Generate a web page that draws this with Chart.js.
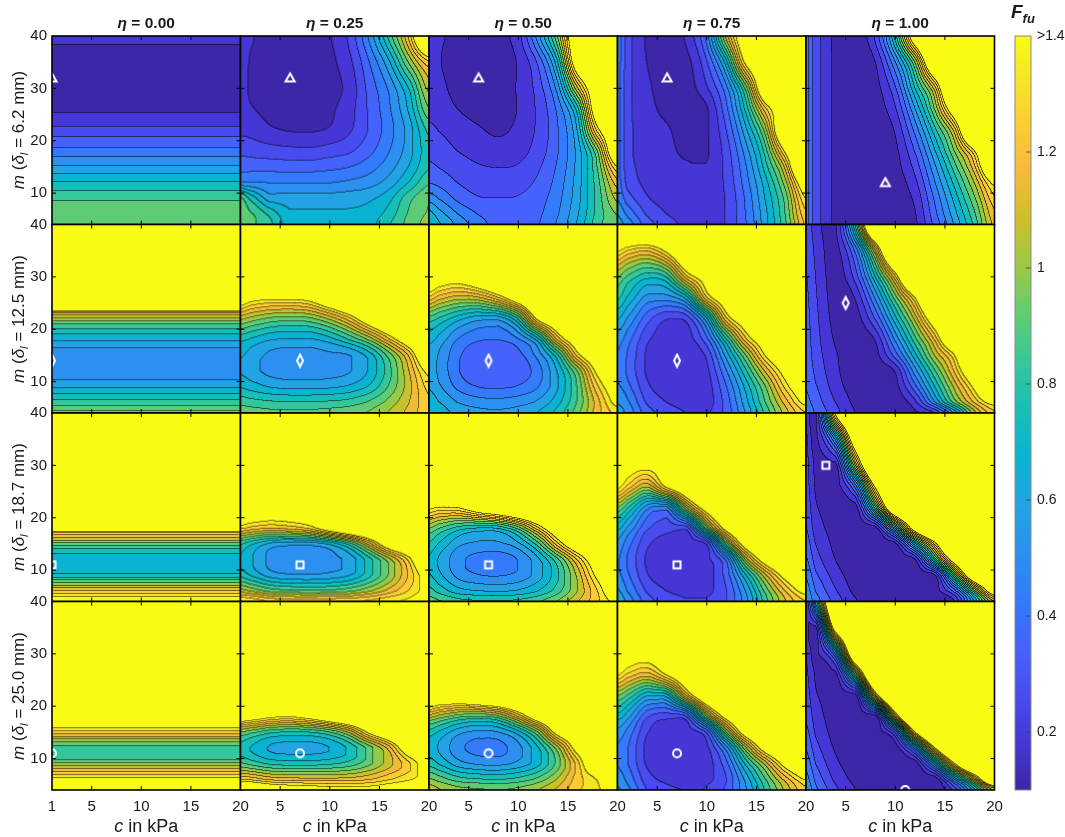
<!DOCTYPE html>
<html>
<head>
<meta charset="utf-8">
<script src="https://cdn.jsdelivr.net/npm/chart.js@4.4.1/dist/chart.umd.min.js"></script>
<style>
  html, body { margin: 0; padding: 0; background: #fff; }
  body { width: 1065px; height: 837px; position: relative; overflow: hidden;
         font-family: "Liberation Sans", Arial, sans-serif; color: #1a1a1a; }
  canvas { position: absolute; }
  .lbl { position: absolute; white-space: nowrap; text-align: center; }
  .col-title { font-weight: bold; font-size: 15.5px; line-height: 18px; top: 14px; }
  .x-title { font-size: 18px; line-height: 20px; top: 816px; }
  .row-title { font-size: 17px; line-height: 20px; height: 20px; transform: rotate(-90deg); }
  .cb-title { font-weight: bold; font-style: italic; font-size: 19px; line-height: 22px; left: 1011px; top: 1px; text-align: left; }
  sub { font-size: 68%; vertical-align: -0.35em; line-height: 0; }
</style>
</head>
<body>
<script>
// --- labels ---
const ETA_LABELS = ['0.00', '0.25', '0.50', '0.75', '1.00'];
const DELTA_LABELS = ['6.2', '12.5', '18.7', '25.0'];
const X_TICKS_FIRST = [1, 5, 10, 15, 20];
const X_TICKS = [5, 10, 15, 20];
const Y_TICKS = [10, 20, 30, 40];
const CBAR_TICKS = [0.2, 0.4, 0.6, 0.8, 1, 1.2, 1.4];

// --- contour levels: 17 equally spaced levels from 0.1 to 1.4 ---
const F_MIN = 0.1;
const F_MAX = 1.4;
const N_LEVELS = 17;

// --- sample nodes ---
const C_NODES = [1, 2, 4, 6, 8, 10, 12, 14, 16, 18, 20];
const M_NODES = [40, 35, 30, 26, 22, 18, 15, 12, 9, 6, 4];   // rows top -> bottom
const M_PROFILE = [4, 5, 6, 7, 8, 9, 10, 11, 12, 13, 14, 15, 16, 17, 18, 19, 20, 21, 22, 23, 24, 26, 28, 30, 32, 34, 36, 38, 40];

// eta = 0: F depends on m only
const F_R1_E000 = [.97, .965, .96, .95, .93, .894, .849, .802, .755, .705, .654, .603, .552, .502, .457, .413, .372, .332, .291, .253, .222, .165, .14, .13, .128, .135, .15, .175, .21];
const F_R2_E000 = [1.01, .937, .861, .787, .716, .653, .598, .57, .555, .55, .55, .558, .574, .619, .683, .75, .824, .92, 1.075, 1.21, 1.6, 2, 2, 2, 2, 2, 2, 2, 2];
const F_R3_E000 = [1.6, 1.4, 1.251, 1.075, .926, .777, .71, .69, .705, .745, .816, .961, 1.14, 1.303, 1.6, 2, 2, 2, 2, 2, 2, 2, 2, 2, 2, 2, 2, 2, 2];
const F_R4_E000 = [2, 1.8, 1.45, 1.29, 1.156, 1.02, .875, .845, .88, .98, 1.14, 1.30, 1.45, 2, 2, 2, 2, 2, 2, 2, 2, 2, 2, 2, 2, 2, 2, 2, 2];

// delta_l = 6.2 mm
const F_R1_E025 = [
  [.22, .19, .15, .14, .15, .175, .28, .52, .85, 1.25, 1.9],
  [.215, .175, .135, .125, .13, .16, .24, .42, .65, 1.0, 1.3],
  [.21, .17, .13, .12, .125, .15, .21, .37, .52, .75, 1.1],
  [.225, .19, .155, .14, .14, .165, .23, .355, .49, .68, .98],
  [.245, .235, .195, .175, .172, .19, .25, .35, .47, .62, .85],
  [.318, .31, .295, .285, .28, .30, .33, .40, .50, .63, .80],
  [.40, .395, .39, .385, .385, .40, .42, .47, .55, .67, .82],
  [.51, .51, .50, .50, .50, .50, .52, .55, .62, .75, .90],
  [.92, .80, .62, .62, .62, .62, .63, .65, .72, .88, .98],
  [.94, .92, .80, .68, .68, .68, .68, .70, .78, .92, 1.0],
  [.95, .93, .85, .70, .69, .69, .70, .72, .82, .94, 1.02]
];
const F_R1_E050 = [
  [.20, .19, .16, .15, .165, .23, .55, 1.0, 1.7, 1.9, 2],
  [.20, .185, .145, .13, .14, .19, .36, .75, 1.6, 1.85, 2],
  [.22, .20, .155, .135, .14, .19, .30, .55, 1.15, 1.65, 1.9],
  [.24, .22, .18, .155, .15, .185, .28, .45, .80, 1.6, 1.8],
  [.28, .26, .22, .19, .17, .20, .28, .42, .68, 1.35, 1.7],
  [.32, .30, .26, .23, .21, .23, .30, .42, .62, 1.0, 1.7],
  [.36, .34, .30, .27, .26, .27, .33, .44, .62, .92, 1.4],
  [.42, .40, .34, .31, .30, .31, .36, .46, .63, .88, 1.2],
  [.55, .50, .40, .35, .345, .35, .39, .48, .64, .86, 1.1],
  [.70, .62, .50, .42, .38, .38, .41, .50, .66, .86, 1.0],
  [.75, .68, .56, .46, .40, .40, .42, .52, .68, .88, .98]
];
const F_R1_E075 = [
  [.48, .30, .17, .14, .20, .45, 1.1, 1.65, 1.9, 2, 2],
  [.47, .30, .18, .135, .155, .33, .72, 1.45, 1.75, 2, 2],
  [.46, .29, .20, .14, .145, .25, .48, .95, 1.7, 1.9, 2],
  [.46, .29, .21, .16, .14, .17, .40, .78, 1.3, 1.65, 1.9],
  [.46, .29, .22, .19, .15, .17, .34, .65, 1.05, 1.8, 1.95],
  [.46, .29, .22, .20, .165, .17, .30, .55, .88, 1.45, 2],
  [.46, .30, .23, .21, .19, .185, .29, .50, .80, 1.2, 2],
  [.47, .32, .24, .22, .20, .20, .28, .47, .72, 1.05, 1.6],
  [.50, .38, .27, .23, .21, .21, .27, .44, .68, .95, 1.4],
  [.58, .48, .33, .26, .22, .215, .27, .43, .65, .92, 1.3],
  [.62, .55, .38, .30, .24, .22, .27, .42, .64, .90, 1.25]
];
const F_R1_E100 = [
  [.45, .30, .16, .13, .28, .78, 1.6, 2, 2, 2, 2],
  [.45, .30, .16, .125, .18, .50, 1.0, 1.8, 2, 2, 2],
  [.45, .30, .16, .12, .15, .33, .75, 1.2, 2, 2, 2],
  [.45, .30, .16, .12, .14, .25, .58, 1.0, 1.6, 2, 2],
  [.45, .30, .16, .12, .13, .19, .45, .80, 1.2, 2, 2],
  [.45, .30, .16, .12, .125, .16, .35, .66, 1.0, 1.4, 2],
  [.45, .30, .16, .12, .12, .15, .29, .57, .88, 1.22, 1.8],
  [.45, .30, .16, .12, .12, .14, .24, .50, .78, 1.08, 1.45],
  [.45, .30, .16, .12, .12, .14, .20, .44, .70, .98, 1.30],
  [.45, .30, .16, .12, .12, .13, .175, .40, .64, .90, 1.22],
  [.45, .30, .16, .12, .12, .13, .165, .37, .60, .86, 1.18]
];

// delta_l = 12.5 mm
const F_R2_E025 = [
  [2, 2, 2, 2, 2, 2, 2, 2, 2, 2, 2],
  [2, 2, 2, 2, 2, 2, 2, 2, 2, 2, 2],
  [2, 2, 2, 2, 2, 2, 2, 2, 2, 2, 2],
  [1.6, 1.5, 1.45, 1.45, 1.5, 1.7, 1.9, 2, 2, 2, 2],
  [1.1, 1.05, .98, .96, .98, 1.10, 1.30, 1.6, 1.85, 2, 2],
  [.78, .74, .68, .66, .66, .72, .84, 1.02, 1.3, 1.6, 1.85],
  [.68, .64, .57, .555, .555, .57, .59, .71, .95, 1.25, 1.7],
  [.66, .62, .56, .54, .54, .55, .58, .68, .88, 1.15, 1.45],
  [.74, .71, .66, .64, .64, .65, .68, .76, .92, 1.12, 1.35],
  [.88, .86, .84, .83, .83, .84, .86, .92, 1.02, 1.15, 1.3],
  [.96, .95, .93, .93, .93, .94, .96, 1.0, 1.08, 1.18, 1.3]
];
const F_R2_E050 = [
  [2, 2, 2, 2, 2, 2, 2, 2, 2, 2, 2],
  [2, 2, 2, 2, 2, 2, 2, 2, 2, 2, 2],
  [1.7, 1.6, 1.55, 1.7, 1.9, 2, 2, 2, 2, 2, 2],
  [1.3, 1.2, 1.12, 1.15, 1.32, 1.6, 1.85, 2, 2, 2, 2],
  [.88, .82, .70, .62, .62, .85, 1.45, 1.7, 2, 2, 2],
  [.70, .64, .50, .44, .43, .50, .72, 1.26, 1.6, 1.85, 2],
  [.64, .58, .44, .37, .36, .40, .54, .82, 1.35, 1.65, 1.9],
  [.63, .57, .43, .35, .35, .37, .47, .68, 1.0, 1.45, 1.7],
  [.66, .60, .48, .42, .41, .43, .50, .66, .92, 1.3, 1.55],
  [.72, .67, .58, .54, .53, .55, .60, .72, .92, 1.2, 1.45],
  [.75, .71, .64, .61, .60, .62, .67, .78, .96, 1.2, 1.35]
];
const F_R2_E075 = [
  [2, 2, 2, 2, 2, 2, 2, 2, 2, 2, 2],
  [1.42, 1.32, 1.25, 1.45, 1.8, 2, 2, 2, 2, 2, 2],
  [1.0, .90, .78, .85, 1.3, 1.55, 1.9, 2, 2, 2, 2],
  [.85, .74, .56, .55, .72, 1.3, 1.6, 1.9, 2, 2, 2],
  [.68, .58, .38, .27, .30, .65, 1.3, 1.6, 1.9, 2, 2],
  [.55, .46, .28, .22, .22, .40, .82, 1.3, 1.6, 1.9, 2],
  [.50, .42, .25, .21, .21, .28, .62, 1.0, 1.42, 1.7, 2],
  [.48, .41, .25, .21, .20, .24, .50, .82, 1.18, 1.5, 1.75],
  [.52, .45, .28, .22, .20, .22, .42, .70, 1.0, 1.35, 1.6],
  [.58, .52, .33, .26, .22, .22, .38, .64, .92, 1.2, 1.45],
  [.62, .56, .38, .31, .26, .25, .37, .60, .86, 1.12, 1.32]
];
const F_R2_E100 = [
  [.32, .22, .17, .85, 2, 2, 2, 2, 2, 2, 2],
  [.34, .24, .15, .45, 1.15, 2, 2, 2, 2, 2, 2],
  [.35, .26, .14, .30, .75, 1.3, 2, 2, 2, 2, 2],
  [.36, .27, .14, .19, .52, .95, 1.4, 2, 2, 2, 2],
  [.37, .28, .15, .14, .35, .72, 1.1, 1.6, 2, 2, 2],
  [.38, .29, .17, .13, .19, .52, .88, 1.25, 1.8, 2, 2],
  [.39, .30, .19, .13, .15, .38, .72, 1.08, 1.4, 2, 2],
  [.40, .32, .20, .13, .13, .19, .55, .90, 1.25, 1.7, 2],
  [.42, .35, .22, .14, .12, .15, .40, .75, 1.1, 1.45, 2],
  [.45, .38, .26, .16, .12, .13, .24, .58, .95, 1.25, 1.5],
  [.48, .41, .29, .18, .13, .13, .17, .27, .62, 1.05, 1.3]
];

// delta_l = 18.7 mm
const F_R3_E025 = [
  [2, 2, 2, 2, 2, 2, 2, 2, 2, 2, 2],
  [2, 2, 2, 2, 2, 2, 2, 2, 2, 2, 2],
  [2, 2, 2, 2, 2, 2, 2, 2, 2, 2, 2],
  [2, 2, 2, 2, 2, 2, 2, 2, 2, 2, 2],
  [1.75, 1.7, 1.65, 1.65, 1.7, 1.8, 1.9, 2, 2, 2, 2],
  [1.35, 1.3, 1.25, 1.28, 1.35, 1.55, 1.75, 1.9, 2, 2, 2],
  [.85, .78, .66, .63, .63, .70, .88, 1.2, 1.6, 1.8, 1.95],
  [.74, .68, .57, .545, .545, .56, .62, .80, 1.05, 1.35, 1.8],
  [.80, .74, .63, .595, .59, .61, .66, .80, 1.0, 1.25, 1.5],
  [1.1, 1.05, .95, .92, .91, .92, .96, 1.05, 1.18, 1.32, 1.45],
  [1.4, 1.38, 1.3, 1.28, 1.28, 1.29, 1.3, 1.33, 1.38, 1.42, 1.5]
];
const F_R3_E050 = [
  [2, 2, 2, 2, 2, 2, 2, 2, 2, 2, 2],
  [2, 2, 2, 2, 2, 2, 2, 2, 2, 2, 2],
  [2, 2, 2, 2, 2, 2, 2, 2, 2, 2, 2],
  [1.9, 1.85, 1.85, 1.9, 2, 2, 2, 2, 2, 2, 2],
  [1.45, 1.4, 1.42, 1.6, 1.75, 1.9, 2, 2, 2, 2, 2],
  [1.0, .92, .80, .75, .77, .95, 1.3, 1.65, 1.85, 2, 2],
  [.82, .74, .61, .57, .57, .65, .88, 1.3, 1.65, 1.85, 2],
  [.74, .66, .53, .48, .47, .51, .65, .90, 1.25, 1.6, 1.85],
  [.76, .69, .56, .51, .50, .53, .63, .82, 1.1, 1.45, 1.7],
  [.86, .80, .70, .67, .66, .68, .75, .88, 1.08, 1.32, 1.6],
  [.95, .92, .86, .84, .84, .85, .90, 1.0, 1.15, 1.3, 1.45]
];
const F_R3_E075 = [
  [2, 2, 2, 2, 2, 2, 2, 2, 2, 2, 2],
  [2, 2, 2, 2, 2, 2, 2, 2, 2, 2, 2],
  [1.6, 1.55, 1.5, 1.6, 1.8, 2, 2, 2, 2, 2, 2],
  [1.45, 1.3, 1.1, 1.45, 1.7, 2, 2, 2, 2, 2, 2],
  [1.0, .85, .55, .50, 1.1, 1.55, 1.8, 2, 2, 2, 2],
  [.70, .58, .36, .30, .31, .95, 1.5, 1.8, 2, 2, 2],
  [.57, .46, .28, .23, .22, .28, .95, 1.55, 1.8, 2, 2],
  [.52, .42, .25, .21, .20, .24, .45, 1.1, 1.55, 1.8, 2],
  [.53, .44, .27, .21, .20, .22, .38, .75, 1.15, 1.5, 1.75],
  [.60, .50, .33, .26, .23, .24, .34, .60, .95, 1.25, 1.48],
  [.66, .56, .38, .31, .27, .27, .34, .56, .88, 1.15, 1.32]
];
const F_R3_E100 = [
  [.26, .16, 1.44, 2, 2, 2, 2, 2, 2, 2, 2],
  [.28, .16, .62, 1.64, 2, 2, 2, 2, 2, 2, 2],
  [.29, .16, .15, 1.08, 1.96, 2, 2, 2, 2, 2, 2],
  [.30, .17, .14, .47, 1.44, 2, 2, 2, 2, 2, 2],
  [.32, .19, .14, .14, .89, 1.8, 2, 2, 2, 2, 2],
  [.35, .22, .15, .13, .15, .77, 1.56, 2, 2, 2, 2],
  [.39, .26, .16, .13, .13, .16, .73, 1.34, 2, 2, 2],
  [.44, .30, .18, .13, .12, .13, .18, .86, 1.56, 2, 2],
  [.50, .36, .22, .14, .12, .12, .13, .18, .94, 1.72, 2],
  [.55, .42, .27, .16, .13, .12, .12, .14, .39, .98, 1.6],
  [.58, .46, .31, .19, .14, .12, .12, .13, .18, .67, 1.16]
];

// delta_l = 25.0 mm
const F_R4_E025 = [
  [2, 2, 2, 2, 2, 2, 2, 2, 2, 2, 2],
  [2, 2, 2, 2, 2, 2, 2, 2, 2, 2, 2],
  [2, 2, 2, 2, 2, 2, 2, 2, 2, 2, 2],
  [2, 2, 2, 2, 2, 2, 2, 2, 2, 2, 2],
  [1.9, 1.85, 1.8, 1.8, 1.85, 1.9, 2, 2, 2, 2, 2],
  [1.6, 1.55, 1.45, 1.42, 1.5, 1.65, 1.8, 1.9, 2, 2, 2],
  [1.0, .95, .86, .83, .84, .92, 1.1, 1.45, 1.7, 1.9, 2],
  [.80, .75, .66, .64, .64, .67, .77, .95, 1.2, 1.6, 1.8],
  [.92, .88, .81, .79, .79, .81, .86, .97, 1.12, 1.3, 1.5],
  [1.3, 1.28, 1.2, 1.18, 1.17, 1.17, 1.18, 1.22, 1.3, 1.38, 1.45],
  [1.7, 1.65, 1.55, 1.5, 1.48, 1.45, 1.45, 1.45, 1.5, 1.55, 1.6]
];
const F_R4_E050 = [
  [2, 2, 2, 2, 2, 2, 2, 2, 2, 2, 2],
  [2, 2, 2, 2, 2, 2, 2, 2, 2, 2, 2],
  [2, 2, 2, 2, 2, 2, 2, 2, 2, 2, 2],
  [2, 2, 2, 2, 2, 2, 2, 2, 2, 2, 2],
  [1.8, 1.7, 1.7, 1.8, 1.9, 2, 2, 2, 2, 2, 2],
  [1.12, 1.05, .95, .92, .98, 1.25, 1.6, 1.8, 2, 2, 2],
  [.80, .74, .62, .57, .59, .72, 1.0, 1.5, 1.7, 1.9, 2],
  [.72, .66, .53, .48, .48, .56, .74, 1.05, 1.5, 1.7, 1.9],
  [.80, .74, .62, .57, .56, .61, .72, .95, 1.28, 1.7, 1.8],
  [1.0, .95, .86, .83, .82, .85, .93, 1.08, 1.28, 1.42, 1.8],
  [1.12, 1.08, 1.02, 1.0, .99, 1.01, 1.07, 1.17, 1.3, 1.38, 1.5]
];
const F_R4_E075 = [
  [2, 2, 2, 2, 2, 2, 2, 2, 2, 2, 2],
  [2, 2, 2, 2, 2, 2, 2, 2, 2, 2, 2],
  [1.7, 1.6, 1.55, 1.7, 2, 2, 2, 2, 2, 2, 2],
  [1.42, 1.3, 1.2, 1.42, 1.7, 2, 2, 2, 2, 2, 2],
  [1.0, .90, .68, .72, 1.25, 1.7, 2, 2, 2, 2, 2],
  [.72, .62, .36, .30, .36, .99, 1.5, 1.8, 2, 2, 2],
  [.56, .48, .27, .22, .22, .36, .99, 1.55, 1.8, 2, 2],
  [.50, .43, .24, .20, .19, .24, .55, 1.07, 1.55, 1.8, 2],
  [.50, .43, .25, .20, .19, .22, .40, .78, 1.12, 1.5, 1.75],
  [.55, .48, .30, .24, .22, .24, .34, .62, .92, 1.2, 1.42],
  [.60, .53, .34, .28, .26, .27, .36, .58, .85, 1.1, 1.3]
];
const F_R4_E100 = [
  [.17, .79, 2, 2, 2, 2, 2, 2, 2, 2, 2],
  [.22, .16, 1.56, 2, 2, 2, 2, 2, 2, 2, 2],
  [.26, .16, .53, 1.8, 2, 2, 2, 2, 2, 2, 2],
  [.28, .17, .15, .94, 1.96, 2, 2, 2, 2, 2, 2],
  [.30, .19, .14, .14, 1.26, 2, 2, 2, 2, 2, 2],
  [.33, .22, .14, .13, .14, 1.23, 2, 2, 2, 2, 2],
  [.37, .25, .15, .13, .13, .38, 1.4, 2, 2, 2, 2],
  [.42, .29, .17, .13, .12, .13, .555, 1.4, 2, 2, 2],
  [.48, .34, .20, .14, .12, .12, .13, .64, 1.4, 2, 2],
  [.54, .40, .24, .16, .13, .12, .12, .13, .61, 1.17, 1.88],
  [.58, .44, .28, .18, .14, .12, .12, .12, .29, .73, 1.18]
];

// optimum markers (c, m) per row
const MARK_C_R1 = [1, 6, 6, 6, 9];
const MARK_M_R1 = [32, 32, 32, 32, 12];
const MARK_C_R2 = [1, 7, 7, 7, 5];
const MARK_M_R2 = [14, 14, 14, 14, 25];
const MARK_C_R3 = [1, 7, 7, 7, 3];
const MARK_M_R3 = [11, 11, 11, 11, 30];
const MARK_C_R4 = [1, 7, 7, 7, 11];
const MARK_M_R4 = [11, 11, 11, 11, 4];

const FIELD_TABLE = [
  [F_R1_E000, F_R1_E025, F_R1_E050, F_R1_E075, F_R1_E100],
  [F_R2_E000, F_R2_E025, F_R2_E050, F_R2_E075, F_R2_E100],
  [F_R3_E000, F_R3_E025, F_R3_E050, F_R3_E075, F_R3_E100],
  [F_R4_E000, F_R4_E025, F_R4_E050, F_R4_E075, F_R4_E100]
];
const MARK_C = [MARK_C_R1, MARK_C_R2, MARK_C_R3, MARK_C_R4];
const MARK_M = [MARK_M_R1, MARK_M_R2, MARK_M_R3, MARK_M_R4];
const MARK_KIND = ['triangle', 'diamond', 'square', 'circle'];

// parula colormap stops (index out of 64)
const PARULA_IDX = [0, 4, 8, 12, 16, 20, 24, 28, 32, 36, 40, 44, 48, 52, 56, 60, 63];
const PARULA = [
  [0.2422, 0.1504, 0.6603], [0.2706, 0.2147, 0.8364], [0.2813, 0.3006, 0.9414],
  [0.2699, 0.3892, 0.9906], [0.1963, 0.4847, 0.9892], [0.1687, 0.5703, 0.9359],
  [0.1248, 0.6459, 0.8883], [0.0297, 0.7082, 0.8163], [0.0964, 0.7500, 0.7120],
  [0.2161, 0.7843, 0.5923], [0.3909, 0.8029, 0.4354], [0.6174, 0.7876, 0.2612],
  [0.8203, 0.7498, 0.1535], [0.9728, 0.7298, 0.2394], [0.9892, 0.8136, 0.1885],
  [0.9597, 0.9135, 0.1423], [0.9769, 0.9839, 0.0805]
];

function parula(t) {
  const p = Math.max(0, Math.min(1, t)) * 63;
  let i = 0;
  while (i < PARULA_IDX.length - 2 && p > PARULA_IDX[i + 1]) i++;
  const f = (p - PARULA_IDX[i]) / (PARULA_IDX[i + 1] - PARULA_IDX[i]);
  return PARULA[i].map((v, k) => Math.round((v + (PARULA[i + 1][k] - v) * f) * 255));
}

const STEP = (F_MAX - F_MIN) / (N_LEVELS - 1);
const BAND_RGB = [];
for (let k = 0; k < N_LEVELS; k++) BAND_RGB.push(parula(k / (N_LEVELS - 1)));

function bandOf(f) {
  if (f >= F_MAX) return N_LEVELS - 1;
  const k = Math.floor((f - F_MIN) / STEP);
  return Math.max(0, Math.min(N_LEVELS - 2, k));
}

// piecewise cubic through the nodes, kept inside each interval (no overshoot)
function cubic(p0, p1, p2, p3, t) {
  const v = p1 + 0.5 * t * (p2 - p0 + t * (2 * p0 - 5 * p1 + 4 * p2 - p3 + t * (3 * (p1 - p2) + p3 - p0)));
  const lo = Math.min(p1, p2), hi = Math.max(p1, p2);
  return v < lo ? lo : (v > hi ? hi : v);
}
function locate(nodes, v) {
  const n = nodes.length;
  if (v <= nodes[0]) return [0, 0];
  if (v >= nodes[n - 1]) return [n - 2, 1];
  let i = 0;
  while (v > nodes[i + 1]) i++;
  return [i, (v - nodes[i]) / (nodes[i + 1] - nodes[i])];
}
function along(arr, i, t) {
  const n = arr.length;
  const g = k => arr[Math.max(0, Math.min(n - 1, k))];
  return cubic(g(i - 1), g(i), g(i + 1), g(i + 2), t);
}

const M_ASC = M_NODES.slice().reverse();

function makeEvaluator(field) {
  if (!Array.isArray(field[0])) {
    return (c, m) => { const [i, t] = locate(M_PROFILE, m); return along(field, i, t); };
  }
  const rows = field.slice().reverse();
  return (c, m) => {
    const [ix, tx] = locate(C_NODES, c);
    const [iy, ty] = locate(M_ASC, m);
    const col = [];
    for (let k = -1; k <= 2; k++) {
      const r = rows[Math.max(0, Math.min(rows.length - 1, iy + k))];
      col.push(along(r, ix, tx));
    }
    return cubic(col[0], col[1], col[2], col[3], ty);
  };
}

const evaluators = new Map();
const SS = 2;          // supersampling so the contour lines come out thin
const LINE_SHADE = 0;

const fieldPlugin = {
  id: 'field',
  beforeDatasetsDraw(chart) {
    const evalF = evaluators.get(chart.canvas);
    if (!evalF) return;
    const a = chart.chartArea, xs = chart.scales.x, ys = chart.scales.y;
    const dpr = chart.currentDevicePixelRatio || 1;
    const w = Math.round(a.width * dpr), h = Math.round(a.height * dpr);
    const W = w * SS, H = h * SS;
    const bands = new Uint8Array(W * H);
    const cs = new Float64Array(W);
    for (let i = 0; i < W; i++) cs[i] = xs.getValueForPixel(a.left + (i + 0.5) / (dpr * SS));
    for (let j = 0; j < H; j++) {
      const m = ys.getValueForPixel(a.top + (j + 0.5) / (dpr * SS));
      for (let i = 0; i < W; i++) bands[j * W + i] = bandOf(evalF(cs[i], m));
    }
    const off = document.createElement('canvas');
    off.width = w; off.height = h;
    const octx = off.getContext('2d');
    const img = octx.createImageData(w, h);
    const n = SS * SS;
    for (let j = 0; j < h; j++) {
      for (let i = 0; i < w; i++) {
        let r = 0, g = 0, b = 0;
        for (let sj = 0; sj < SS; sj++) {
          for (let si = 0; si < SS; si++) {
            const J = j * SS + sj, I = i * SS + si, p = J * W + I, k = bands[p];
            const edge = (I < W - 1 && bands[p + 1] !== k) || (J < H - 1 && bands[p + W] !== k);
            const rgb = BAND_RGB[k], f = edge ? LINE_SHADE : 1;
            r += rgb[0] * f; g += rgb[1] * f; b += rgb[2] * f;
          }
        }
        const q = (j * w + i) * 4;
        img.data[q] = r / n;
        img.data[q + 1] = g / n;
        img.data[q + 2] = b / n;
        img.data[q + 3] = 255;
      }
    }
    octx.putImageData(img, 0, 0);
    chart.ctx.drawImage(off, a.left, a.top, a.width, a.height);
  },
  afterDraw(chart) {
    const a = chart.chartArea, xs = chart.scales.x, ys = chart.scales.y, ctx = chart.ctx;
    ctx.save();
    ctx.strokeStyle = '#000';
    ctx.lineWidth = 1;
    ctx.beginPath();
    [5, 10, 15].forEach(v => {
      const px = xs.getPixelForValue(v);
      ctx.moveTo(px, a.bottom); ctx.lineTo(px, a.bottom - 4);
      ctx.moveTo(px, a.top); ctx.lineTo(px, a.top + 4);
    });
    [10, 20, 30].forEach(v => {
      const py = ys.getPixelForValue(v);
      ctx.moveTo(a.left, py); ctx.lineTo(a.left + 4, py);
      ctx.moveTo(a.right, py); ctx.lineTo(a.right - 4, py);
    });
    ctx.stroke();
    ctx.lineWidth = 1.6;
    ctx.strokeRect(a.left, a.top, a.width, a.height);
    ctx.restore();
  }
};

function markerCanvas(kind) {
  const cv = document.createElement('canvas');
  cv.width = 16; cv.height = 16;
  const g = cv.getContext('2d');
  g.strokeStyle = '#fff';
  g.lineWidth = 2;
  g.beginPath();
  if (kind === 'triangle') { g.moveTo(8, 3.5); g.lineTo(12.5, 11.5); g.lineTo(3.5, 11.5); g.closePath(); }
  else if (kind === 'diamond') { g.moveTo(8, 2); g.lineTo(11, 8); g.lineTo(8, 14); g.lineTo(5, 8); g.closePath(); }
  else if (kind === 'square') { g.rect(4.5, 4.5, 7, 7); }
  else { g.arc(8, 8, 4, 0, Math.PI * 2); }
  g.stroke();
  return cv;
}

Chart.defaults.font.family = '"Liberation Sans", Arial, sans-serif';
Chart.defaults.color = '#1a1a1a';

const COL_LEFT = [52, 240.5, 429, 617.5, 806];
const ROW_TOP = [36, 224.5, 413, 601.5];
const PANEL = 188.5;
const CV_W = 270, CV_H = 240;

function addLabel(cls, html, left, top, width) {
  const d = document.createElement('div');
  d.className = 'lbl ' + cls;
  d.innerHTML = html;
  d.style.left = left + 'px';
  if (top !== null) d.style.top = top + 'px';
  if (width) d.style.width = width + 'px';
  document.body.appendChild(d);
  return d;
}

const tickFont = { size: 15 };

for (let r = 0; r < 4; r++) {
  for (let c = 0; c < 5; c++) {
    const cvLeft = Math.floor(COL_LEFT[c]) - 62;
    const cvTop = Math.floor(ROW_TOP[r]) - 12;
    const canvas = document.createElement('canvas');
    canvas.width = CV_W; canvas.height = CV_H;
    canvas.style.left = cvLeft + 'px';
    canvas.style.top = cvTop + 'px';
    document.body.appendChild(canvas);
    evaluators.set(canvas, makeEvaluator(FIELD_TABLE[r][c]));
    // the axes take the whole margin so their labels are not clipped
    const axisW = COL_LEFT[c] - cvLeft, padT = ROW_TOP[r] - cvTop;
    const axisH = CV_H - padT - PANEL;
    const xt = c === 0 ? X_TICKS_FIRST : X_TICKS;
    const isBottom = r === 3, isFirst = c === 0;
    new Chart(canvas, {
      type: 'scatter',
      data: {
        datasets: [{
          data: [{ x: MARK_C[r][c], y: MARK_M[r][c] }],
          pointStyle: markerCanvas(MARK_KIND[r]),
          pointRadius: 8,
          clip: 0
        }]
      },
      options: {
        responsive: false,
        animation: false,
        events: [],
        layout: { padding: { left: 0, top: padT, right: CV_W - axisW - PANEL, bottom: 0 } },
        plugins: { legend: { display: false }, tooltip: { enabled: false } },
        scales: {
          x: {
            type: 'linear', min: 1, max: 20, position: 'bottom',
            grid: { display: false, drawTicks: false }, border: { display: false },
            ticks: { display: isBottom, padding: 8, font: tickFont, color: '#1a1a1a', maxRotation: 0, autoSkip: false },
            afterBuildTicks: s => { s.ticks = xt.map(v => ({ value: v })); },
            afterFit: s => { s.height = axisH; s.paddingLeft = 0; s.paddingRight = 0; s.paddingTop = 0; s.paddingBottom = 0; }
          },
          y: {
            type: 'linear', min: 4, max: 40, position: 'left',
            grid: { display: false, drawTicks: false }, border: { display: false },
            ticks: { display: isFirst, padding: 5, font: tickFont, color: '#1a1a1a', autoSkip: false },
            afterBuildTicks: s => { s.ticks = Y_TICKS.map(v => ({ value: v })); },
            afterFit: s => { s.width = axisW; s.paddingLeft = 0; s.paddingRight = 0; s.paddingTop = 0; s.paddingBottom = 0; }
          }
        }
      },
      plugins: [fieldPlugin]
    });
  }
}

// colour bar
const colorbarPlugin = {
  id: 'colorbar',
  beforeDatasetsDraw(chart) {
    const a = chart.chartArea, ys = chart.scales.y, ctx = chart.ctx;
    const grad = ctx.createLinearGradient(0, ys.getPixelForValue(F_MIN), 0, ys.getPixelForValue(F_MAX));
    PARULA.forEach((col, i) => {
      grad.addColorStop(PARULA_IDX[i] / 63, 'rgb(' + col.map(v => Math.round(v * 255)).join(',') + ')');
    });
    ctx.save();
    ctx.fillStyle = grad;
    ctx.fillRect(a.left, a.top, a.width, a.height);
    ctx.strokeStyle = 'rgba(60,60,60,0.75)';
    ctx.lineWidth = 1;
    ctx.beginPath();
    CBAR_TICKS.slice(0, -1).forEach(v => {
      const py = ys.getPixelForValue(v);
      ctx.moveTo(a.right - 5, py); ctx.lineTo(a.right, py);
    });
    ctx.stroke();
    ctx.strokeStyle = '#8a8a8a';
    ctx.strokeRect(a.left, a.top, a.width, a.height);
    ctx.restore();
  }
};

const cbCanvas = document.createElement('canvas');
cbCanvas.width = 65; cbCanvas.height = 837;
cbCanvas.style.left = '1000px';
cbCanvas.style.top = '0px';
document.body.appendChild(cbCanvas);
new Chart(cbCanvas, {
  type: 'scatter',
  data: { datasets: [] },
  options: {
    responsive: false,
    animation: false,
    events: [],
    layout: { padding: { left: 15, top: 36, right: 0, bottom: 47 } },
    plugins: { legend: { display: false }, tooltip: { enabled: false } },
    scales: {
      x: { display: false, min: 0, max: 1 },
      y: {
        type: 'linear', min: F_MIN, max: F_MAX, position: 'right',
        grid: { display: false, drawTicks: false }, border: { display: false },
        ticks: {
          padding: 6, font: { size: 14 }, color: '#1a1a1a', autoSkip: false,
          callback: v => (v >= F_MAX - 1e-9 ? '>1.4' : String(Math.round(v * 10) / 10))
        },
        afterBuildTicks: s => { s.ticks = CBAR_TICKS.map(v => ({ value: v })); },
        afterFit: s => { s.width = 34; s.paddingTop = 0; s.paddingBottom = 0; }
      }
    }
  },
  plugins: [colorbarPlugin]
});

// text
for (let c = 0; c < 5; c++) {
  addLabel('col-title', '<i>\u03b7</i> = ' + ETA_LABELS[c], COL_LEFT[c], null, PANEL);
  addLabel('x-title', '<i>c</i> in kPa', COL_LEFT[c], null, PANEL);
}
for (let r = 0; r < 4; r++) {
  addLabel('row-title', '<i>m</i> (<i>\u03b4<sub>l</sub></i> = ' + DELTA_LABELS[r] + ' mm)',
    19 - PANEL / 2, ROW_TOP[r] + PANEL / 2 - 10, PANEL);
}
addLabel('cb-title', 'F<sub>fu</sub>', 1011, 1, null);
</script>
</body>
</html>
